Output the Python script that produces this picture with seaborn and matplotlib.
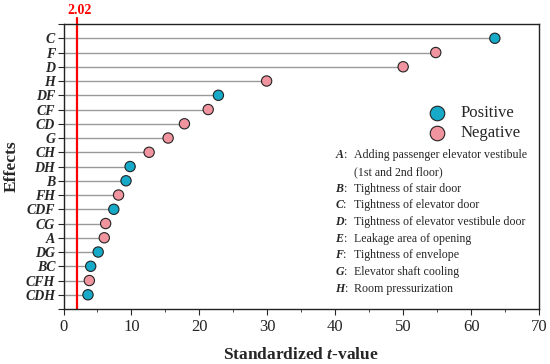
import pandas as pd
import matplotlib.pyplot as plt
import seaborn as sns

# effects from top to bottom, standardized t-values and sign
effects = ["C", "F", "D", "H", "DF", "CF", "CD", "G", "CH", "DH",
           "B", "FH", "CDF", "CG", "A", "DG", "BC", "CFH", "CDH"]
t_values = [63.5, 54.8, 50.0, 29.9, 22.8, 21.3, 17.8, 15.4, 12.6, 9.8,
            9.2, 8.1, 7.4, 6.2, 6.0, 5.1, 4.0, 3.8, 3.6]
signs = ["Positive", "Negative", "Negative", "Negative", "Positive", "Negative",
         "Negative", "Negative", "Negative", "Positive", "Positive", "Negative",
         "Positive", "Negative", "Negative", "Positive", "Positive", "Negative",
         "Positive"]
t_crit = 2.02

factor_letters = ["A", "B", "C", "D", "E", "F", "G", "H"]
factor_names = ["Adding passenger elevator vestibule\n(1st and 2nd floor)",
                "Tightness of stair door", "Tightness of elevator door",
                "Tightness of elevator vestibule door", "Leakage area of opening",
                "Tightness of envelope", "Elevator shaft cooling",
                "Room pressurization"]

df = pd.DataFrame({"Effect": effects, "t": t_values, "Sign": signs})
df["pos"] = range(len(df))

sns.set_style("ticks")
plt.rcParams["font.family"] = ["Liberation Serif", "DejaVu Serif"]
plt.rcParams["mathtext.fontset"] = "custom"
plt.rcParams["mathtext.it"] = "Liberation Serif:italic:bold"
plt.rcParams["mathtext.rm"] = "Liberation Serif"

colors = {"Positive": "#17A9C8", "Negative": "#F0959F"}

fig = plt.figure(figsize=(5.5, 3.64), dpi=100)
ax = fig.add_axes([0.1155, 0.151, 0.8645, 0.783])

# stems
ax.hlines(df["pos"], 0, df["t"], color="#9a9a9a", lw=1.0, zorder=1)
sns.scatterplot(data=df, x="t", y="pos", hue="Sign", palette=colors,
                hue_order=["Positive", "Negative"], s=55, edgecolor="#222222",
                linewidth=0.8, zorder=3, ax=ax, legend=False)

# critical t line
ax.axvline(t_crit, ymin=0, ymax=1.021, color="red", lw=1.6, clip_on=False, zorder=2)
ax.text(t_crit + 0.3, 1.024, "2.02", color="red", fontsize=10, fontweight="bold",
        ha="center", va="bottom", transform=ax.get_xaxis_transform())

ax.set_xlim(0, 70)
ax.set_ylim(len(effects), -1)
ax.set_xticks(range(0, 71, 10))
ax.set_xticks(range(5, 70, 10), minor=True)
ax.set_yticks(range(-1, len(effects) + 1))
ax.set_yticklabels([""] + effects + [""], fontstyle="italic", fontweight="bold",
                   fontsize=10)
ax.tick_params(axis="x", labelsize=12, direction="out", length=4)
ax.tick_params(axis="x", which="minor", length=2.5)
ax.tick_params(axis="y", direction="out", length=4, pad=2)
for sp in ax.spines.values():
    sp.set_linewidth(1.0)
    sp.set_color("#222222")

ax.set_xlabel(r"Standardized $t$-value", fontsize=12.5, fontweight="bold", labelpad=8)
ax.set_ylabel("Effects", fontsize=12.5, fontweight="bold", labelpad=4)

# legend
for i, lab in enumerate(["Positive", "Negative"]):
    yy = 0.688 - i * 0.07
    ax.scatter([0.785], [yy], s=110, color=colors[lab], edgecolor="#222222",
               linewidth=0.8, transform=ax.transAxes, clip_on=False, zorder=4)
    ax.text(0.834, yy, lab, fontsize=12, va="center", ha="left",
            transform=ax.transAxes)

# factor descriptions
y0 = 0.54
step = 0.0586
row = 0
for letter, name in zip(factor_letters, factor_names):
    lines = name.split("\n")
    ax.text(0.57, y0 - row * step, f"${letter}$:", fontsize=8.6, va="center",
            ha="left", transform=ax.transAxes)
    for ln in lines:
        ax.text(0.611, y0 - row * step, ln, fontsize=8.6, va="center", ha="left",
                transform=ax.transAxes)
        row += 1

fig.savefig("out.png", dpi=100)
